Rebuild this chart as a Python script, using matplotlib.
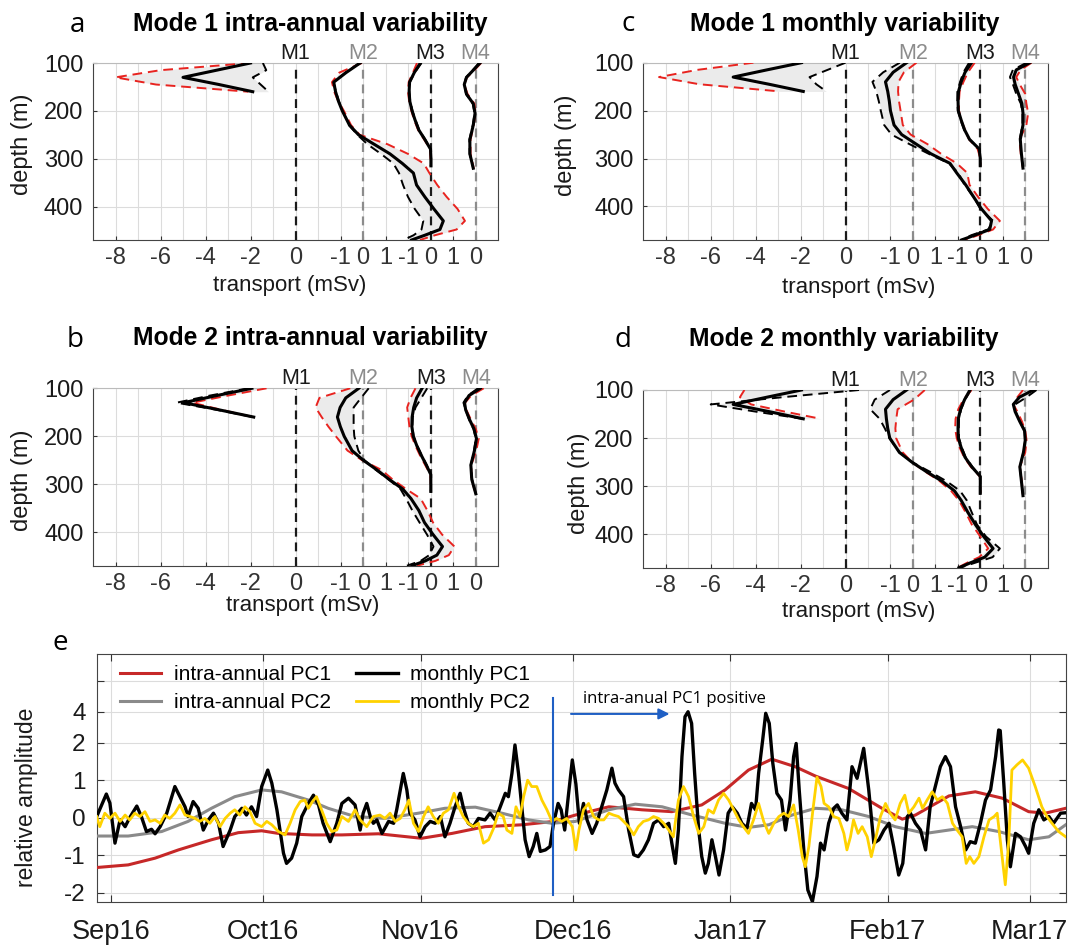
import matplotlib as mpl
mpl.use('Agg')
import matplotlib.pyplot as plt
import matplotlib.dates as mdates
import numpy as np
import datetime

plt.rcParams['font.family'] = ['Liberation Sans', 'DejaVu Sans']

# ---------------- profile data (mSv) ----------------
# depth levels (m) of the four moorings
m1_depth = [100, 115, 130, 145, 160]
m2_depth = [100, 120, 140, 160, 180, 200, 230, 250, 270, 290, 310, 330, 355, 380, 405, 430, 448, 460, 470]
m3_depth = [100, 120, 140, 160, 180, 200, 220, 240, 260, 280, 300, 315]
m4_depth = [100, 115, 130, 145, 165, 185, 205, 230, 260, 290, 320]

# each entry: (mean profile, red dashed profile, black dashed profile)
# a: mode 1 intra-annual
a_m1 = ([-2.0, -3.5, -5.0, -3.4, -1.9],
        [-2.0, -6.0, -8.0, -6.2, -2.1],
        [-1.45, -1.3, -1.9, -1.55, -1.2])
a_m2 = ([-0.13, -0.75, -1.30, -1.22, -1.09, -0.92, -0.60, -0.20, 0.50, 1.20, 1.75, 2.24, 2.38, 2.75, 3.15, 3.57, 3.42, 2.75, 2.16],
        [-0.05, -1.05, -1.38, -1.28, -1.10, -0.85, -0.53, -0.15, 1.10, 2.00, 2.70, 2.95, 3.30, 3.72, 4.20, 4.53, 4.16, 3.20, 2.53],
        [-0.15, -0.78, -1.32, -1.20, -1.07, -0.90, -0.62, -0.25, 0.20, 0.80, 1.35, 1.60, 1.78, 2.00, 2.30, 2.68, 2.60, 2.25, 1.80])
a_m3 = ([-0.45, -0.72, -0.93, -0.95, -0.92, -0.82, -0.68, -0.52, -0.25, 0.0, 0.02, 0.02],
        [-0.6, -0.78, -0.97, -1.0, -0.95, -0.85, -0.72, -0.55, -0.28, -0.02, 0.0, 0.0],
        [-0.4, -0.7, -0.92, -0.94, -0.9, -0.8, -0.66, -0.5, -0.23, 0.0, 0.02, 0.02])
a_m4 = ([0.2, -0.1, -0.4, -0.5, -0.4, -0.1, -0.02, -0.1, -0.25, -0.25, -0.1],
        [0.25, -0.05, -0.38, -0.5, -0.35, -0.05, 0.0, -0.08, -0.22, -0.22, -0.08],
        [0.15, -0.12, -0.42, -0.5, -0.42, -0.12, -0.04, -0.12, -0.27, -0.26, -0.1])

# b: mode 2 intra-annual
b_m1 = ([-1.95, -3.5, -4.99, -3.4, -1.87],
        [-1.3, -3.0, -4.6, -3.3, -1.9],
        [-2.1, -3.8, -5.3, -3.5, -1.9])
b_m2 = ([-0.2, -0.78, -1.03, -1.15, -1.02, -0.85, -0.5, 0.0, 0.6, 1.15, 1.75, 2.12, 2.47, 2.72, 3.1, 3.52, 3.27, 2.75, 2.16],
        [-0.58, -1.95, -2.12, -1.85, -1.55, -1.22, -0.7, -0.05, 0.8, 1.3, 1.9, 2.55, 2.85, 3.1, 3.5, 4.05, 3.8, 3.2, 2.39],
        [0.24, -0.1, -0.43, -0.43, -0.43, -0.4, -0.22, 0.05, 0.55, 1.12, 1.65, 1.9, 2.18, 2.5, 2.83, 3.12, 2.93, 2.55, 1.94])
b_m3 = ([-0.39, -0.63, -0.76, -0.83, -0.84, -0.78, -0.62, -0.42, -0.2, 0.0, 0.0, 0.0],
        [-0.68, -0.9, -1.05, -1.0, -0.95, -0.85, -0.68, -0.48, -0.25, -0.02, 0.0, 0.0],
        [-0.16, -0.42, -0.68, -0.8, -0.82, -0.76, -0.6, -0.4, -0.18, 0.0, 0.0, 0.0])
b_m4 = ([0.2, -0.3, -0.5, -0.45, -0.28, -0.08, 0.03, -0.06, -0.22, -0.18, 0.0],
        [0.35, -0.2, -0.48, -0.42, -0.22, 0.0, 0.13, 0.02, -0.2, -0.2, 0.0],
        [0.1, -0.35, -0.55, -0.45, -0.3, -0.1, 0.0, -0.08, -0.22, -0.16, 0.0])

# c: mode 1 monthly
c_m1 = ([-1.96, -3.5, -5.0, -3.4, -1.88],
        [-4.1, -6.6, -8.3, -6.5, -2.9],
        [0.0, -0.8, -1.6, -1.3, -0.85])
c_m2 = ([-0.28, -0.88, -1.22, -1.12, -1.05, -1.0, -0.84, -0.5, 0.15, 0.8, 1.65, 1.95, 2.35, 2.7, 3.05, 3.5, 3.42, 2.75, 2.16],
        [0.16, -0.4, -0.64, -0.66, -0.62, -0.55, -0.45, -0.1, 0.65, 1.25, 1.95, 2.42, 2.52, 2.9, 3.33, 3.87, 3.57, 2.9, 2.3],
        [-0.58, -1.32, -1.8, -1.63, -1.52, -1.43, -1.28, -0.95, -0.15, 0.7, 1.6, 2.02, 2.3, 2.7, 3.0, 3.57, 3.35, 2.6, 2.16])
c_m3 = ([-0.39, -0.68, -0.85, -0.97, -0.99, -0.98, -0.85, -0.7, -0.48, -0.05, 0.0, 0.0],
        [-0.25, -0.55, -0.75, -0.92, -0.95, -0.95, -0.85, -0.68, -0.5, -0.12, 0.0, 0.0],
        [-0.5, -0.75, -0.9, -1.02, -1.02, -1.0, -0.88, -0.72, -0.48, -0.05, 0.0, 0.0])
c_m4 = ([0.2, -0.4, -0.52, -0.45, -0.3, -0.15, -0.1, -0.1, -0.22, -0.17, -0.1],
        [0.28, -0.2, -0.4, -0.25, 0.0, 0.05, 0.13, 0.05, -0.25, -0.2, -0.1],
        [0.06, -0.55, -0.68, -0.55, -0.4, -0.2, -0.12, -0.12, -0.25, -0.18, -0.1])

# d: mode 2 monthly
d_m1 = ([-1.96, -3.5, -5.0, -3.4, -1.88],
        [-4.5, -4.7, -4.2, -2.7, -1.1],
        [0.6, -2.8, -6.0, -4.0, -1.9])
d_m2 = ([-0.28, -0.88, -1.22, -1.18, -1.12, -1.03, -0.6, -0.05, 0.6, 1.3, 1.85, 2.15, 2.45, 2.78, 3.15, 3.57, 3.2, 2.55, 2.05],
        [0.53, 0.05, -0.68, -0.74, -0.78, -0.75, -0.45, -0.05, 0.55, 1.2, 1.7, 2.05, 2.35, 2.62, 3.0, 3.35, 2.95, 2.4, 2.0],
        [-1.02, -1.7, -1.9, -1.48, -1.25, -1.05, -0.6, -0.05, 0.75, 1.5, 2.1, 2.4, 2.62, 2.85, 3.25, 3.87, 3.55, 2.75, 2.1])
d_m3 = ([-0.46, -0.7, -0.88, -0.98, -0.99, -0.98, -0.85, -0.68, -0.38, 0.0, 0.0, 0.0],
        [-0.39, -0.75, -0.98, -1.1, -1.12, -1.05, -0.92, -0.72, -0.42, -0.02, 0.0, 0.0],
        [-0.42, -0.68, -0.85, -0.95, -0.96, -0.95, -0.82, -0.65, -0.35, 0.0, 0.0, 0.0])
d_m4 = ([0.36, -0.26, -0.53, -0.45, -0.25, -0.03, 0.0, -0.08, -0.24, -0.17, -0.1],
        [-0.1, -0.35, -0.53, -0.35, -0.15, 0.0, 0.06, 0.0, -0.24, -0.15, -0.1],
        [0.5, 0.06, -0.45, -0.42, -0.25, -0.02, 0.0, -0.08, -0.24, -0.17, -0.1])

mooring_names = ['M1', 'M2', 'M3', 'M4']
xtick_pos = [-8, -6, -4, -2, 0, 2, 3, 4, 5, 6, 7, 8]
xtick_lab = ['-8', '-6', '-4', '-2', '0', '-1', '0', '1', '-1', '0', '1', '0']

# ---------------- time series (days since 1 Sep 2016, value) ----------------
intra_pc1 = [(-2.8, -1.33), (3.4, -1.26), (8.7, -1.08), (13.3, -0.86), (19.8, -0.59), (25.1, -0.40),
             (29.7, -0.35), (33.0, -0.42), (39.6, -0.46), (45.5, -0.46), (52.7, -0.43), (61.2, -0.55),
             (67.2, -0.42), (73.7, -0.24), (81.0, -0.19), (87.2, -0.10), (91.5, 0.07), (98.1, 0.29),
             (104.6, 0.21), (110.5, 0.16), (116.4, 0.34), (121.0, 0.74), (125.6, 1.27), (130.2, 1.56),
             (134.8, 1.36), (138.8, 1.11), (145.3, 0.78), (151.9, 0.25), (155.9, -0.04), (158.5, 0.07),
             (165.1, 0.58), (170.3, 0.69), (175.6, 0.52), (180.8, 0.16), (184.1, 0.12), (188.1, 0.25)]

intra_pc2 = [(-2.8, -0.49), (3.4, -0.49), (10.0, -0.37), (15.2, -0.10), (19.8, 0.25), (24.4, 0.56),
             (29.7, 0.74), (33.6, 0.69), (38.9, 0.47), (42.8, 0.25), (48.1, 0.03), (54.0, -0.02),
             (60.6, 0.12), (65.8, 0.25), (71.8, 0.28), (77.0, 0.12), (82.3, -0.06), (86.9, -0.15),
             (91.5, -0.10), (98.1, 0.21), (103.3, 0.36), (108.6, 0.29), (114.5, 0.07), (121.0, -0.15),
             (125.6, -0.26), (129.6, -0.19), (134.2, 0.07), (138.8, 0.25), (144.0, 0.21), (149.3, 0.03),
             (154.5, -0.24), (160.5, -0.42), (165.1, -0.33), (169.7, -0.24), (174.9, -0.37), (180.8, -0.59),
             (184.8, -0.51), (188.1, -0.19)]

monthly_pc1 = [(-2.8, 0.03), (-0.9, 0.63), (-0.2, 0.39), (0.8, -0.68), (1.8, -0.06), (2.8, -0.24), (3.7, 0.0),
               (5.1, 0.31), (6.0, 0.03), (7.0, -0.37), (8.0, -0.31), (8.7, -0.43), (9.7, -0.24), (11.0, 0.12),
               (12.6, 0.83), (13.6, 0.56), (14.6, 0.29), (15.2, 0.03), (16.2, 0.43), (17.2, 0.25), (18.2, -0.33),
               (19.2, -0.06), (20.2, 0.12), (21.2, -0.15), (22.1, -0.77), (23.5, -0.33), (24.4, 0.03), (25.8, 0.25),
               (26.7, 0.07), (27.7, 0.29), (28.7, 0.03), (29.7, 0.83), (30.9, 1.27), (31.7, 0.92), (32.7, 0.21),
               (33.3, -0.33), (34.0, -0.95), (34.6, -1.22), (35.6, -1.08), (36.6, -0.68), (37.6, 0.03), (38.9, 0.38),
               (39.9, 0.60), (40.9, 0.34), (41.8, -0.15), (43.2, -0.64), (44.5, -0.15), (45.5, 0.38), (46.8, 0.52),
               (48.1, 0.34), (49.1, -0.33), (49.7, 0.12), (50.4, 0.38), (51.1, 0.03), (51.7, -0.15), (52.4, -0.06),
               (53.4, -0.42), (54.7, -0.10), (55.7, -0.15), (56.3, 0.21), (57.0, 0.74), (57.6, 1.18), (58.3, 0.74),
               (58.9, 0.12), (59.9, -0.06), (60.9, -0.51), (61.9, -0.24), (62.9, -0.10), (63.9, -0.15), (64.9, 0.03),
               (65.8, -0.51), (66.8, -0.15), (67.8, 0.29), (68.8, 0.65), (69.4, 0.29), (70.4, -0.15), (71.4, -0.24),
               (72.4, -0.02), (73.7, -0.06), (74.7, 0.12), (75.7, -0.06), (76.7, 0.29), (77.7, 0.65), (78.3, 0.56),
               (79.0, 1.18), (79.6, 1.94), (80.3, 1.18), (81.0, 0.21), (81.6, -0.59), (82.4, -1.04), (83.2, -0.77),
               (83.9, -0.42), (84.6, -0.90), (85.6, -0.86), (86.5, -0.77), (87.2, -0.15), (88.1, 0.38), (88.7, 0.21),
               (89.4, -0.33), (90.1, 0.56), (90.9, 1.54), (91.6, 0.90), (92.3, -0.15), (93.1, 0.38), (93.8, -0.06),
               (94.8, -0.42), (95.7, -0.15), (96.7, 0.29), (97.7, 0.74), (98.7, 1.32), (99.3, 0.92), (100.0, 0.74),
               (101.0, 0.56), (102.0, -0.33), (103.0, -0.99), (103.9, -1.04), (104.9, -0.86), (105.9, -0.59),
               (106.9, -0.15), (107.9, -0.06), (108.9, -0.24), (109.9, -0.15), (110.5, -0.68), (111.2, -1.22),
               (111.8, -0.33), (112.5, 1.63), (113.1, 3.68), (113.7, 4.0), (114.4, 3.25), (115.0, 1.18), (115.8, -0.33),
               (116.4, -1.04), (117.1, -1.48), (117.7, -1.22), (118.4, -0.59), (119.1, -1.04), (119.8, -1.53),
               (120.7, -0.86), (121.6, 0.12), (122.4, 0.29), (123.4, 0.12), (124.3, -0.15), (125.3, -0.28),
               (126.2, 0.38), (127.0, 0.21), (127.6, 1.18), (128.4, 2.17), (129.0, 3.9), (129.7, 3.25), (130.4, 1.45),
               (131.2, 0.65), (132.1, 0.47), (132.9, -0.33), (133.8, 0.47), (134.5, 1.63), (135.0, 1.98), (135.6, 0.74),
               (136.5, -0.86), (137.3, -1.93), (138.2, -2.24), (139.1, -1.57), (139.8, -0.68), (140.5, -0.86),
               (141.4, -0.15), (142.4, 0.25), (143.1, 0.34), (144.0, 0.12), (145.0, -0.06), (146.0, 1.36), (147.0, 1.05),
               (148.3, 1.85), (149.3, 0.74), (150.3, -0.68), (151.3, -0.59), (152.3, -0.33), (153.3, -0.15),
               (154.2, -0.77), (155.2, -1.53), (156.0, -1.22), (156.9, 0.03), (157.5, 0.12), (158.5, -0.15),
               (159.5, -0.33), (160.5, -0.86), (161.4, 0.29), (162.4, 0.83), (163.4, 1.36), (164.4, 1.63), (165.4, 1.36),
               (166.4, 0.29), (167.4, -0.24), (168.4, -0.86), (169.3, -0.64), (170.3, -0.68), (171.3, -0.15),
               (172.3, 0.47), (173.3, 0.74), (174.3, 1.63), (174.9, 2.82), (175.2, 2.78), (175.9, 0.92), (176.6, -0.59),
               (177.2, -1.31), (178.2, -0.42), (179.2, -0.51), (180.2, -0.77), (180.8, -0.95), (181.8, -0.15),
               (182.8, 0.21), (183.8, -0.06), (184.8, 0.03), (185.7, -0.15), (187.1, 0.12), (188.1, 0.13)]

monthly_pc2 = [(-2.8, 0.03), (-2.2, -0.24), (-1.2, 0.12), (-0.2, -0.02), (0.8, 0.12), (1.8, -0.10), (2.8, 0.07),
               (3.7, -0.06), (4.7, 0.12), (5.7, 0.03), (6.7, 0.16), (7.7, -0.10), (8.7, -0.06), (9.7, -0.15),
               (10.6, 0.07), (11.6, -0.02), (12.6, 0.12), (13.6, 0.34), (14.6, 0.07), (15.6, 0.03), (16.6, -0.02),
               (17.5, -0.10), (18.5, -0.02), (19.5, -0.15), (20.5, 0.03), (21.5, -0.24), (22.5, -0.02), (23.5, 0.12),
               (24.4, 0.21), (25.4, 0.07), (26.4, 0.29), (27.4, 0.16), (28.4, -0.15), (29.7, -0.24), (30.7, -0.10),
               (31.7, -0.19), (33.0, -0.37), (34.3, -0.46), (35.3, -0.15), (36.3, 0.21), (37.3, 0.43), (38.2, 0.47),
               (38.9, 0.25), (39.7, 0.43), (40.5, 0.56), (41.5, 0.21), (42.5, -0.15), (43.5, -0.37), (44.5, -0.33),
               (45.5, 0.03), (46.8, -0.10), (48.1, 0.21), (49.1, -0.06), (50.4, -0.24), (51.7, 0.03), (53.0, 0.07),
               (54.0, -0.02), (55.0, 0.12), (56.0, -0.10), (57.0, -0.02), (57.9, 0.21), (58.7, 0.47), (59.6, -0.15),
               (60.6, -0.37), (61.6, 0.03), (62.5, 0.29), (63.5, 0.03), (64.5, -0.15), (65.5, 0.12), (66.5, 0.21),
               (67.6, 0.65), (68.5, 0.29), (69.4, 0.03), (70.4, -0.15), (71.4, -0.24), (72.4, -0.15), (73.4, -0.68),
               (74.4, -0.59), (75.4, -0.28), (76.3, 0.12), (77.3, 0.03), (78.0, -0.33), (79.0, -0.42), (79.8, 0.29),
               (80.6, 0.03), (81.3, 0.56), (82.1, 1.00), (82.9, 0.83), (83.9, 0.83), (84.9, 0.47), (85.9, 0.21),
               (86.9, -0.10), (87.8, -0.02), (88.8, -0.10), (89.8, -0.02), (90.9, -0.24), (91.6, -0.86), (92.2, -0.33),
               (93.1, 0.21), (94.1, 0.38), (95.1, 0.03), (96.1, -0.06), (97.1, -0.06), (98.1, 0.12), (99.0, 0.07),
               (100.0, 0.03), (101.0, -0.10), (102.0, -0.24), (103.0, -0.46), (103.9, -0.24), (104.9, -0.10),
               (105.9, -0.06), (106.9, 0.03), (107.9, -0.02), (108.9, -0.15), (109.9, -0.33), (110.8, -0.51),
               (111.8, 0.47), (112.8, 0.83), (113.8, 0.56), (114.8, 0.03), (115.8, -0.42), (116.8, -0.24),
               (117.7, 0.21), (118.7, 0.12), (119.7, 0.47), (120.7, 0.65), (121.7, 0.47), (122.7, 0.21), (123.7, -0.06),
               (124.6, -0.24), (125.6, -0.42), (126.6, -0.06), (127.6, 0.38), (128.6, -0.10), (129.6, -0.42),
               (130.6, -0.15), (131.6, 0.03), (132.6, 0.12), (133.5, 0.03), (134.5, 0.34), (135.4, -0.33),
               (136.2, -1.04), (136.8, -1.31), (137.5, -0.77), (138.3, 0.21), (139.1, 1.08), (139.9, 0.83),
               (140.5, 0.38), (141.4, 0.29), (142.4, 0.03), (143.4, -0.02), (144.4, -0.42), (145.0, -0.86),
               (145.7, -0.51), (146.3, -0.06), (147.2, -0.42), (148.0, -0.24), (149.0, -0.51), (149.8, -1.04),
               (150.6, -0.59), (151.6, 0.03), (152.6, 0.38), (153.5, 0.12), (154.5, -0.06), (155.5, 0.38), (156.4, 0.60),
               (157.2, 0.12), (158.2, 0.29), (159.2, 0.52), (159.9, 0.25), (160.8, 0.47), (161.8, 0.69), (162.8, 0.47),
               (163.8, 0.56), (164.8, 0.38), (165.8, -0.15), (166.7, -0.33), (167.7, -0.51), (168.5, -1.22),
               (169.2, -1.04), (170.0, -1.22), (171.0, -1.04), (172.0, -0.51), (173.0, -0.06), (174.0, 0.03),
               (174.6, 0.12), (175.2, -0.59), (175.8, -1.31), (176.2, -1.79), (176.9, -0.59), (177.5, 1.27),
               (178.5, 1.41), (179.6, 1.54), (180.8, 1.32), (182.1, 0.83), (183.4, 0.29), (184.4, 0.03), (185.4, -0.15),
               (186.7, -0.37), (188.1, -0.51)]

start_date = datetime.datetime(2016, 9, 1)
switch_day = 87.0          # 27 Nov 2016, intra-annual PC1 turns positive

# ---------------- figure ----------------
W, H = 1081, 947
fig = plt.figure(figsize=(W / 100, H / 100), dpi=100)


def box(l, t, r, b):
    return [l / W, 1 - b / H, (r - l) / W, (b - t) / H]


def ftext(x, y, s, **kw):
    fig.text(x / W, 1 - y / H, s, **kw)


BLACK = '#1a1a1a'
GRAY = '#8c8c8c'
zero_pos = [0, 3, 6, 8]
zero_col = [BLACK, GRAY, BLACK, GRAY]
depths = [m1_depth, m2_depth, m3_depth, m4_depth]


def profile_panel(rect, moorings, xlab_xy, ylab_xy):
    ax = fig.add_axes(box(*rect))
    for (mean, pos, neg), z, off in zip(moorings, depths, zero_pos):
        ax.fill_betweenx(z, np.array(pos) + off, np.array(neg) + off,
                         color='#ebebeb', lw=0, zorder=1)
    for off, col in zip(zero_pos, zero_col):
        ax.axvline(off, color=col, lw=1.6, ls=(0, (4, 2.6)), zorder=2)
    for (mean, pos, neg), z, off in zip(moorings, depths, zero_pos):
        ax.plot(np.array(neg) + off, z, color='k', lw=1.4, ls=(0, (5, 3)), zorder=3)
        ax.plot(np.array(pos) + off, z, color='#e8231f', lw=1.4, ls=(0, (5, 3)), zorder=4)
        ax.plot(np.array(mean) + off, z, color='k', lw=2.2, zorder=5)
    for name, off, col in zip(mooring_names, zero_pos, zero_col):
        ax.text(off, 1.022, name, transform=ax.get_xaxis_transform(), ha='center',
                va='baseline', fontsize=15.5, color=col)
    ax.set_xlim(-9, 9)
    ax.set_ylim(470, 100)
    ax.set_yticks([100, 200, 300, 400])
    ax.set_xticks(xtick_pos)
    ax.set_xticklabels(xtick_lab)
    for lbl, p in zip(ax.get_xticklabels(), xtick_pos):
        lbl.set_color(GRAY if (2 <= p <= 4 or p == 8) else BLACK)
    ax.set_xticks(np.arange(-9, 10), minor=True)
    ax.grid(True, which='both', color='#dcdcdc', lw=0.8)
    ax.set_axisbelow(True)
    ax.tick_params(which='minor', length=0)
    ax.tick_params(which='major', direction='in', length=3, labelsize=17,
                   colors='#333333', pad=5)
    ax.tick_params(axis='y', labelcolor=BLACK, pad=7)
    for s in ['left', 'bottom', 'right']:
        ax.spines[s].set_color('#444444')
    ax.spines['top'].set_color('#bbbbbb')
    ax.set_xlabel('transport (mSv)', fontsize=16, color=BLACK)
    ax.xaxis.set_label_coords(*xlab_xy)
    ax.set_ylabel('depth (m)', fontsize=17, color=BLACK)
    ax.yaxis.set_label_coords(*ylab_xy)
    return ax


ax_a = profile_panel((93, 63, 498, 240), [a_m1, a_m2, a_m3, a_m4], (0.486, -0.20), (-0.148, 0.54))
ax_c = profile_panel((643.3, 62.7, 1047.7, 240), [c_m1, c_m2, c_m3, c_m4], (0.533, -0.21), (-0.164, 0.535))
ax_b = profile_panel((93.3, 388.3, 498.3, 565.7), [b_m1, b_m2, b_m3, b_m4], (0.518, -0.165), (-0.149, 0.483))
ax_d = profile_panel((643.3, 390, 1047.7, 567.7), [d_m1, d_m2, d_m3, d_m4], (0.533, -0.19), (-0.132, 0.476))

title_kw = dict(ha='center', va='baseline', fontsize=17.7, fontweight='bold', color='k')
ftext(310, 31, 'Mode 1 intra-annual variability', **title_kw)
ftext(845, 31, 'Mode 1 monthly variability', **title_kw)
ftext(310, 345, 'Mode 2 intra-annual variability', **title_kw)
ftext(844, 346, 'Mode 2 monthly variability', **title_kw)

letter_kw = dict(ha='center', va='baseline', fontsize=20, family='Open Sans', color='k')
ftext(77, 32, 'a', **letter_kw)
ftext(628, 31, 'c', **letter_kw)
ftext(75, 347, 'b', **letter_kw)
ftext(623, 347, 'd', **letter_kw)
ftext(60, 650, 'e', **letter_kw)

# ---------------- panel e ----------------
K = 0.413  # compression of the axis above 2


def fwd(y):
    y = np.asarray(y, dtype=float)
    return np.where(y <= 2, y, 2 + (y - 2) * K)


def inv(u):
    u = np.asarray(u, dtype=float)
    return np.where(u <= 2, u, 2 + (u - 2) / K)


ax_e = fig.add_axes(box(96.7, 654, 1065.7, 902))
ax_e.set_yscale('function', functions=(fwd, inv))
base = mdates.date2num(start_date)


def series(pairs):
    arr = np.array(pairs)
    return base + arr[:, 0], arr[:, 1]


x, y = series(intra_pc1)
ax_e.plot(x, y, color='#c62828', lw=2.2, label='intra-annual PC1', zorder=3)
x, y = series(intra_pc2)
ax_e.plot(x, y, color='#8a8a8a', lw=2.2, label='intra-annual PC2', zorder=3)
x, y = series(monthly_pc1)
ax_e.plot(x, y, color='k', lw=2.4, label='monthly PC1', zorder=4)
x, y = series(monthly_pc2)
ax_e.plot(x, y, color='#ffd200', lw=2.0, label='monthly PC2', zorder=5)

blue = '#1f5fc4'
ax_e.plot([base + switch_day] * 2, [-2.06, 4.9], color=blue, lw=1.5, zorder=6)
ax_e.annotate('', xy=(base + 110.6, 3.86), xytext=(base + 90.1, 3.86),
              arrowprops=dict(arrowstyle='-|>', color=blue, lw=1.5, mutation_scale=16))
ax_e.text(base + 93.0, 4.55, 'intra-anual PC1 positive', fontsize=12, family='Open Sans',
          color='k', va='baseline', ha='left')

ax_e.set_xlim(base - 2.8, base + 188.1)
ax_e.set_ylim(-2.25, 7.73)
ax_e.set_yticks([-2, -1, 0, 1, 2, 4, 6])
ax_e.set_yticklabels(['-2', '-1', '0', '1', '2', '4', ''])
ax_e.xaxis.set_major_locator(mdates.MonthLocator())
ax_e.xaxis.set_major_formatter(mdates.DateFormatter('%b%y'))
ax_e.grid(True, color='#dcdcdc', lw=0.8)
ax_e.set_axisbelow(True)
ax_e.tick_params(direction='in', length=5, top=True, right=True, colors='#333333')
ax_e.tick_params(axis='x', labelsize=19.5, labelcolor=BLACK, pad=12)
ax_e.tick_params(axis='y', labelsize=17.5, labelcolor=BLACK, pad=8)
for s in ax_e.spines.values():
    s.set_color('#444444')
ax_e.set_ylabel('relative amplitude', fontsize=16.5, color=BLACK)
ax_e.yaxis.set_label_coords(-0.061, 0.421)

ax_e.legend(loc='upper left', bbox_to_anchor=(0.015, 0.99), borderaxespad=0, frameon=False,
            ncol=2, fontsize=15, handlelength=2.0, columnspacing=1.2, labelspacing=0.45,
            handletextpad=0.6)

fig.savefig('out.png', dpi=100)
